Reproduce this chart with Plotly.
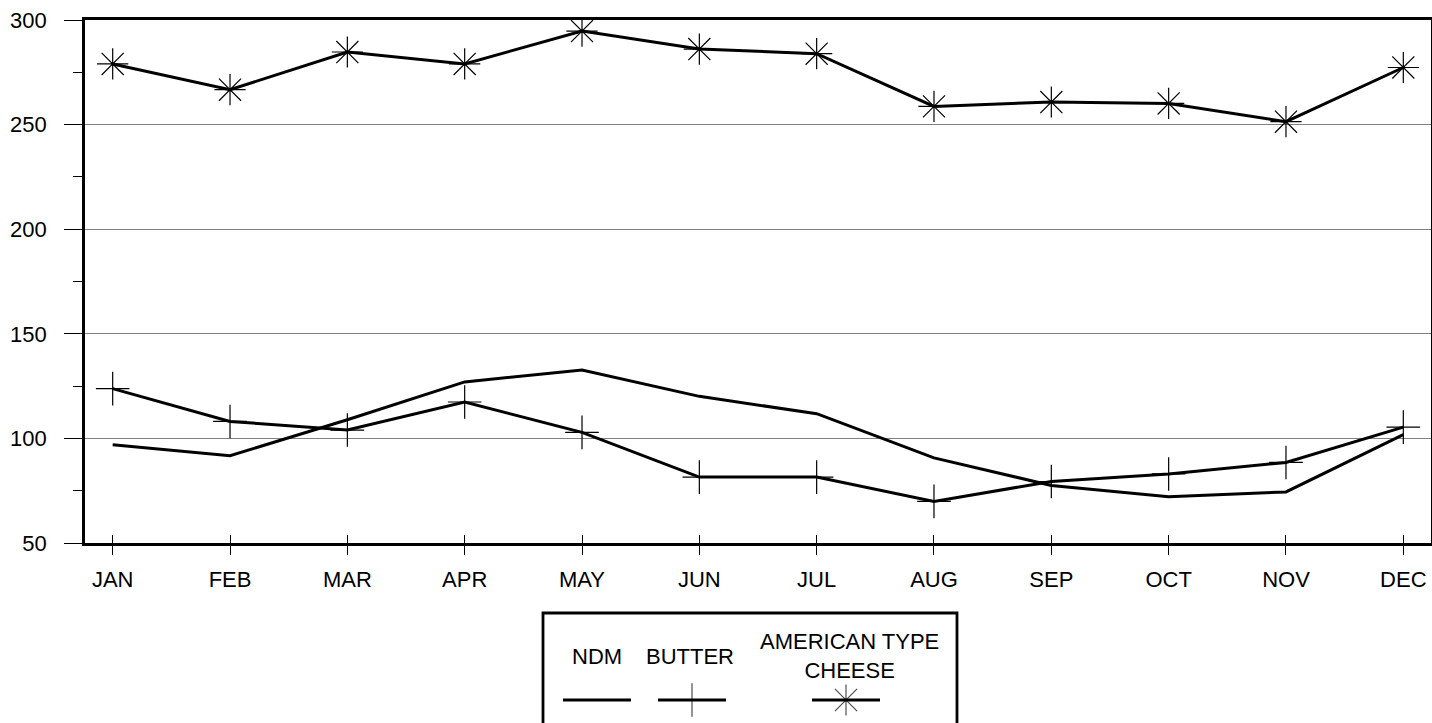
import plotly.graph_objects as go

months = ["JAN", "FEB", "MAR", "APR", "MAY", "JUN", "JUL", "AUG", "SEP", "OCT", "NOV", "DEC"]
ndm = [97.0, 91.7, 108.9, 127.0, 132.7, 120.1, 111.8, 90.7, 77.5, 72.1, 74.4, 101.8]
butter = [123.8, 108.1, 104.0, 117.4, 102.9, 81.5, 81.5, 69.9, 79.4, 83.0, 88.5, 105.4]
cheese = [279.0, 266.7, 284.7, 279.0, 294.7, 286.1, 283.9, 258.7, 260.8, 260.1, 251.4, 277.3]

y_ticks = [50, 100, 150, 200, 250, 300]
legend_names = ["NDM", "BUTTER", "AMERICAN TYPE<br>CHEESE"]

FONT = "Liberation Sans, Arial, sans-serif"
FS = 22
LW = 3
MK = "#444444"
W, H = 1432, 723
L, R, T = 85, 1, 20
plot_bottom_px = 543          # pixel row of x axis
paper_h = H - T
main_y0 = (H - plot_bottom_px) / paper_h

idx = list(range(len(months)))
xr = [-0.236, len(months) - 1 + 0.236]

fig = go.Figure()

fig.add_trace(go.Scatter(x=idx, y=ndm, mode="lines", name="NDM",
                         line=dict(color="black", width=LW), showlegend=False))
fig.add_trace(go.Scatter(x=idx, y=butter, mode="lines+markers", name="BUTTER",
                         line=dict(color="black", width=LW),
                         marker=dict(symbol="cross-thin-open", size=24,
                                     line=dict(color=MK, width=1.2)),
                         showlegend=False))
fig.add_trace(go.Scatter(x=idx, y=cheese, mode="lines+markers", name="AMERICAN TYPE CHEESE",
                         line=dict(color="black", width=LW),
                         marker=dict(symbol="asterisk-open", size=26,
                                     line=dict(color=MK, width=1.2)),
                         showlegend=False))
# invisible trace to carry the inside tick overlay axis
fig.add_trace(go.Scatter(x=idx, y=ndm, mode="markers", xaxis="x2", yaxis="y",
                         marker=dict(opacity=0), hoverinfo="skip", showlegend=False))

# legend samples in their own small axis
leg_centers = [54, 149, 303]
half = 34
leg_y = 23
symbols = [None, "cross-thin-open", "asterisk-open"]
sizes = [0, 24, 26]
for c, sym, sz in zip(leg_centers, symbols, sizes):
    if sym is None:
        fig.add_trace(go.Scatter(x=[c - half, c + half], y=[leg_y, leg_y], mode="lines",
                                 line=dict(color="black", width=LW),
                                 xaxis="x3", yaxis="y3", hoverinfo="skip", showlegend=False))
    else:
        fig.add_trace(go.Scatter(x=[c - half, c, c + half], y=[leg_y] * 3, mode="lines+markers",
                                 line=dict(color="black", width=LW),
                                 marker=dict(symbol=sym, size=[0, sz, 0],
                                             line=dict(color=MK, width=1.2)),
                                 xaxis="x3", yaxis="y3", hoverinfo="skip", showlegend=False))

box_left_px, box_right_px, box_top_px = 543, 957, 613
plot_w = W - L - R
bx0 = (box_left_px - L) / plot_w
bx1 = (box_right_px - L) / plot_w
by1 = (H - box_top_px) / paper_h

leg_text_x = [54, 146.5, 306]
for tx, name in zip(leg_text_x, legend_names):
    fig.add_annotation(x=tx, y=67, xref="x3", yref="y3", text=name, showarrow=False,
                       font=dict(family=FONT, size=FS, color="black"),
                       xanchor="center", yanchor="middle", align="center")

fig.add_shape(type="rect", xref="paper", yref="paper", x0=bx0, x1=bx1, y0=-0.05, y1=by1,
              line=dict(color="black", width=2.8), fillcolor="rgba(0,0,0,0)", layer="below")

fig.update_layout(
    width=W, height=H,
    margin=dict(l=L, r=R, t=T, b=0, pad=0, autoexpand=False),
    paper_bgcolor="white", plot_bgcolor="white",
    font=dict(family=FONT, size=FS, color="black"),
    xaxis=dict(
        domain=[0, 1], range=xr, tickmode="array", tickvals=idx, ticktext=months,
        ticks="outside", ticklen=9, tickwidth=1, tickcolor="black",
        showline=True, linecolor="black", linewidth=2.8, mirror=True,
        showgrid=False, zeroline=False, anchor="y", ticklabelstandoff=6,
        automargin=False,
        tickfont=dict(family=FONT, size=FS, color="black"),
    ),
    xaxis2=dict(
        overlaying="x", anchor="y", side="bottom", range=xr,
        tickmode="array", tickvals=idx, showticklabels=False,
        ticks="inside", ticklen=8, tickwidth=1, tickcolor="black",
        showline=False, showgrid=False, zeroline=False, automargin=False,
    ),
    yaxis=dict(
        domain=[main_y0, 1], range=[50, 300], tickmode="array", tickvals=y_ticks,
        ticks="outside", ticklen=18, tickwidth=1, tickcolor="black",
        minor=dict(dtick=25, tick0=0, ticks="outside", ticklen=9, tickwidth=1,
                   tickcolor="black", showgrid=False),
        showline=True, linecolor="black", linewidth=2.8, mirror=True,
        showgrid=True, gridcolor="#808080", gridwidth=1, zeroline=False,
        ticklabelstandoff=13, automargin=False,
        tickfont=dict(family=FONT, size=FS, color="black"),
        anchor="x",
    ),
    xaxis3=dict(domain=[bx0, bx1], range=[0, box_right_px - box_left_px], visible=False,
                anchor="y3", fixedrange=True, automargin=False),
    yaxis3=dict(domain=[0, main_y0], range=[0, H - plot_bottom_px], visible=False,
                anchor="x3", fixedrange=True, automargin=False),
    showlegend=False,
)

fig.write_html("out.html", config={"displayModeBar": False},
               post_script="document.body.style.margin='0';document.body.style.overflow='hidden';")
